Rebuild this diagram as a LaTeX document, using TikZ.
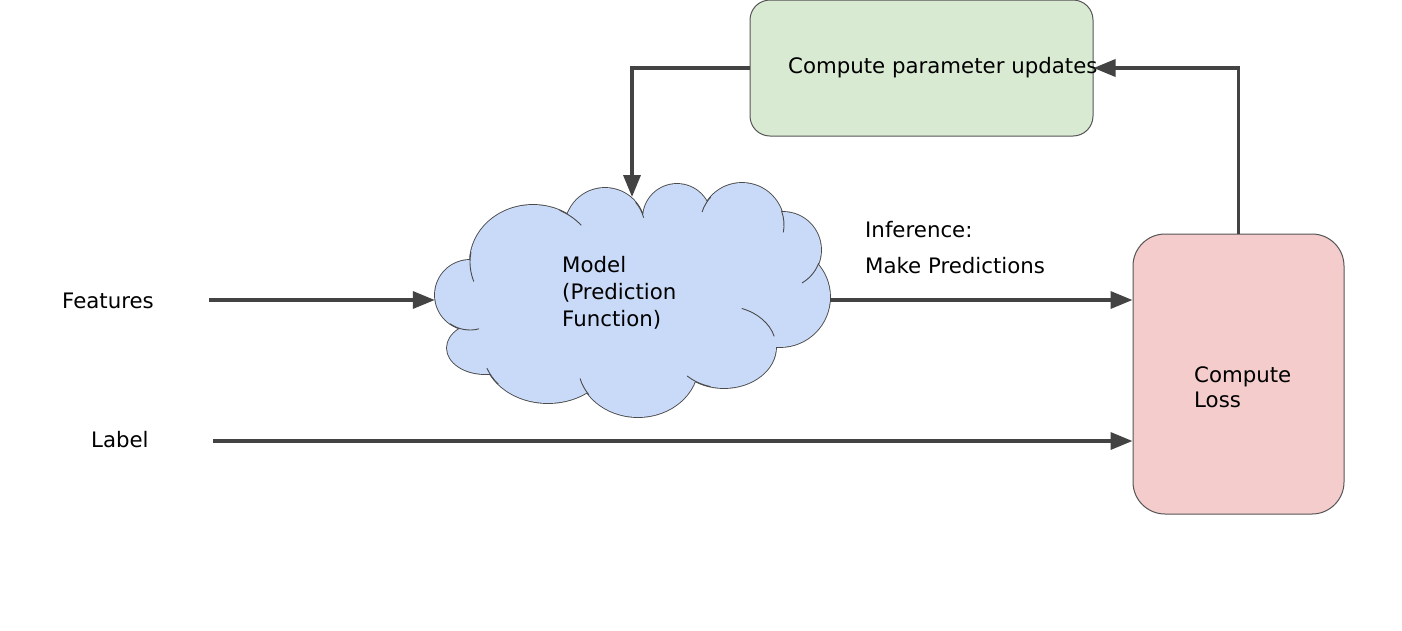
\documentclass[tikz,border=0pt]{standalone}
\usepackage{fontspec}
\setmainfont{DejaVu Sans}
\usetikzlibrary{arrows.meta,calc}
\definecolor{cloudfill}{HTML}{C9DAF8}
\definecolor{updfill}{HTML}{D9EAD3}
\definecolor{lossfill}{HTML}{F4CCCC}
\definecolor{arrowc}{HTML}{434343}
\definecolor{boxline}{HTML}{555555}
\definecolor{cloudedge}{HTML}{4A4A4A}
\tikzset{
  lbl/.style={inner sep=0pt, anchor=base west, text=black},
  arr/.style={draw=arrowc, line width=3.5pt, -{Triangle[length=22pt,width=17pt]}},
  box/.style={draw=boxline, line width=1pt},
  hook/.style={draw=cloudedge, line width=0.9pt},
}
\begin{document}
\begin{tikzpicture}[x=1pt,y=-1pt, font=\fontsize{21.3}{26.5}\selectfont]
\useasboundingbox (0,0) rectangle (1402,630);
\fill[white] (0,0) rectangle (1402,630);

% cloud
\def\puffs{470/295/35/35, 533/262/63/57, 605/228/40/40, 677/218/34/34, 742/225/42/42, 783/250/38/38, 780/297/50/50, 724/347/52/41, 638/365/60/52, 548/350/65/53, 485/348/38/26}
\foreach \cx/\cy/\rx/\ry in \puffs {
  \draw[draw=cloudedge, line width=1.8pt] (\cx,\cy) ellipse [x radius=\rx, y radius=\ry];
}
\fill[cloudfill] (630,295) ellipse [x radius=150, y radius=80];
\foreach \cx/\cy/\rx/\ry in \puffs {
  \fill[cloudfill] (\cx,\cy) ellipse [x radius=\rx, y radius=\ry];
}
\foreach \cx/\cy/\rx/\ry/\a/\b in {470/295/35/35/125/75, 533/262/63/57/190/160, 533/262/63/57/295/320, 605/228/40/40/320/345, 742/225/42/42/222/198, 742/225/42/42/340/370, 783/250/38/38/20/60, 724/347/52/41/290/345, 724/347/52/41/105/135, 638/365/60/52/145/165, 548/350/65/53/140/160} {
  \draw[hook] ($(\cx,\cy)+({\rx*cos(\a)},{\ry*sin(\a)})$) arc [start angle=\a, end angle=\b, x radius=\rx, y radius=\ry];
}
\node[inner sep=0pt, minimum width=395pt, minimum height=234pt] (cloud) at (632.5,300) {};
\node[lbl] (model1) at (562,272) {Model};
\node[lbl] (model2) at (562,299) {(Prediction};
\node[lbl] (model3) at (562,326) {Function)};

% boxes
\node[box, fill=updfill, rounded corners=20pt, minimum width=343pt, minimum height=136pt] (upd) at (921.5,68) {};
\node[lbl] (updtext) at (788,73) {Compute parameter updates};
\node[box, fill=lossfill, rounded corners=32pt, minimum width=211pt, minimum height=280pt] (loss) at (1238.5,374) {};
\node[lbl] (loss1) at (1194,382) {Compute};
\node[lbl] (loss2) at (1194,407) {Loss};

% labels
\node[lbl] (feat) at (62,308) {Features};
\node[lbl] (label) at (91,447) {Label};
\node[lbl] (inf1) at (865,237) {Inference:};
\node[lbl] (inf2) at (865,273) {Make Predictions};

% connectors
\coordinate (fstart) at (209,300);
\coordinate (lstart) at (213,441);
\coordinate (ctop) at (632,197);
\draw[arr] (fstart) -- (cloud.west);
\draw[arr] (cloud.east) -- (cloud.east -| loss.west);
\draw[arr] (lstart) -- (lstart -| loss.west);
\draw[arr] (loss.north) |- (upd.east);
\draw[arr] (upd.west) -| (ctop);
\end{tikzpicture}
\end{document}
